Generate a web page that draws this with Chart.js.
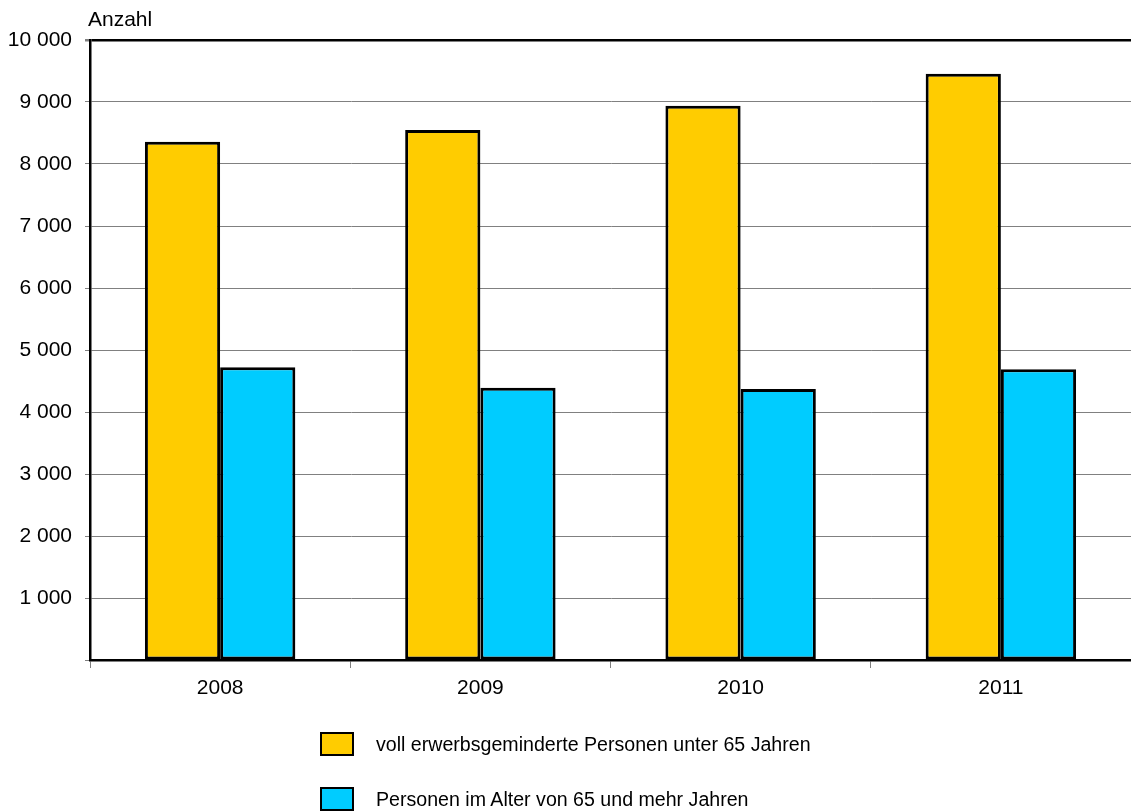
<!DOCTYPE html>
<html>
<head>
<meta charset="utf-8">
<script src="https://cdn.jsdelivr.net/npm/chart.js@4.4.0/dist/chart.umd.min.js"></script>
<style>
  html, body { margin: 0; padding: 0; background: #fff; }
  #wrap { position: relative; width: 1131px; height: 811px; }
  #legend { position: absolute; left: 0; top: 0; width: 1131px; height: 811px; pointer-events: none;
            font-family: "Liberation Sans", Arial, sans-serif; font-size: 19.6px; color: #000; }
  .item { position: absolute; left: 320px; display: flex; align-items: center; }
  .box { width: 30px; height: 20px; border: 2.5px solid #000; margin-right: 22px; }
</style>
</head>
<body>
<div id="wrap">
  <canvas id="c" width="1131" height="811"></canvas>
  <div id="legend"></div>
</div>
<script>
const categories = ["2008", "2009", "2010", "2011"];
const seriesNames = ["voll erwerbsgeminderte Personen unter 65 Jahren", "Personen im Alter von 65 und mehr Jahren"];
const unter65 = [8360, 8550, 8940, 9455];
const ab65 = [4720, 4390, 4370, 4690];
const yTicks = [0, 1000, 2000, 3000, 4000, 5000, 6000, 7000, 8000, 9000, 10000];
const colors = ["#FFCC00", "#00CCFF"];
const axisTitle = "Anzahl";

const FONT = "'Liberation Sans', Arial, sans-serif";

function fmt(v) {
  if (v === 0) return "";
  return String(v).replace(/\B(?=(\d{3})+(?!\d))/g, " ");
}

const titlePlugin = {
  id: "anzahl",
  afterDraw(chart) {
    const ctx = chart.ctx;
    ctx.save();
    ctx.font = "21px " + FONT;
    ctx.fillStyle = "#000";
    ctx.textAlign = "left";
    ctx.textBaseline = "middle";
    ctx.fillText(axisTitle, chart.chartArea.left - 2, 20);
    ctx.restore();
  }
};

new Chart(document.getElementById("c"), {
  type: "bar",
  data: {
    labels: categories,
    datasets: [
      { label: seriesNames[0], data: unter65, backgroundColor: colors[0], borderColor: "#000", borderWidth: 3, borderSkipped: false },
      { label: seriesNames[1], data: ab65, backgroundColor: colors[1], borderColor: "#000", borderWidth: 3, borderSkipped: false }
    ]
  },
  options: {
    responsive: false,
    animation: false,
    devicePixelRatio: 1,
    layout: { padding: { top: 40, left: 0, right: 0, bottom: 0 } },
    datasets: { bar: { categoryPercentage: 0.578, barPercentage: 1.0 } },
    plugins: { legend: { display: false }, tooltip: { enabled: false }, title: { display: false } },
    scales: {
      x: {
        offset: true,
        grid: { display: true, drawOnChartArea: false, drawTicks: true, tickLength: 8, color: "#808080", offset: true },
        border: { display: true, color: "#000", width: 2.5 },
        ticks: { color: "#000", font: { family: FONT, size: 21 }, padding: 8 },
        afterFit(scale) { scale.height = 151; }
      },
      y: {
        min: 0, max: 10000,
        afterBuildTicks(scale) { scale.ticks = yTicks.map(v => ({ value: v })); },
        grid: {
          drawTicks: true, tickLength: 5,
          color: ctx => (ctx.tick && ctx.tick.value === 10000) ? "#000" : "#808080",
          lineWidth: ctx => (ctx.tick && ctx.tick.value === 10000) ? 2.5 : 1,
          tickColor: "#808080"
        },
        border: { display: true, color: "#000", width: 2.5 },
        ticks: { color: "#000", font: { family: FONT, size: 21 }, padding: 13, callback: v => fmt(v) },
        afterFit(scale) { scale.width = 90; }
      }
    }
  },
  plugins: [titlePlugin]
});

const legend = document.getElementById("legend");
const tops = [732, 787];
seriesNames.forEach((name, i) => {
  const it = document.createElement("div");
  it.className = "item";
  it.style.top = tops[i] + "px";
  const b = document.createElement("div");
  b.className = "box";
  b.style.background = colors[i];
  const t = document.createElement("span");
  t.textContent = name;
  it.appendChild(b); it.appendChild(t);
  legend.appendChild(it);
});
</script>
</body>
</html>
